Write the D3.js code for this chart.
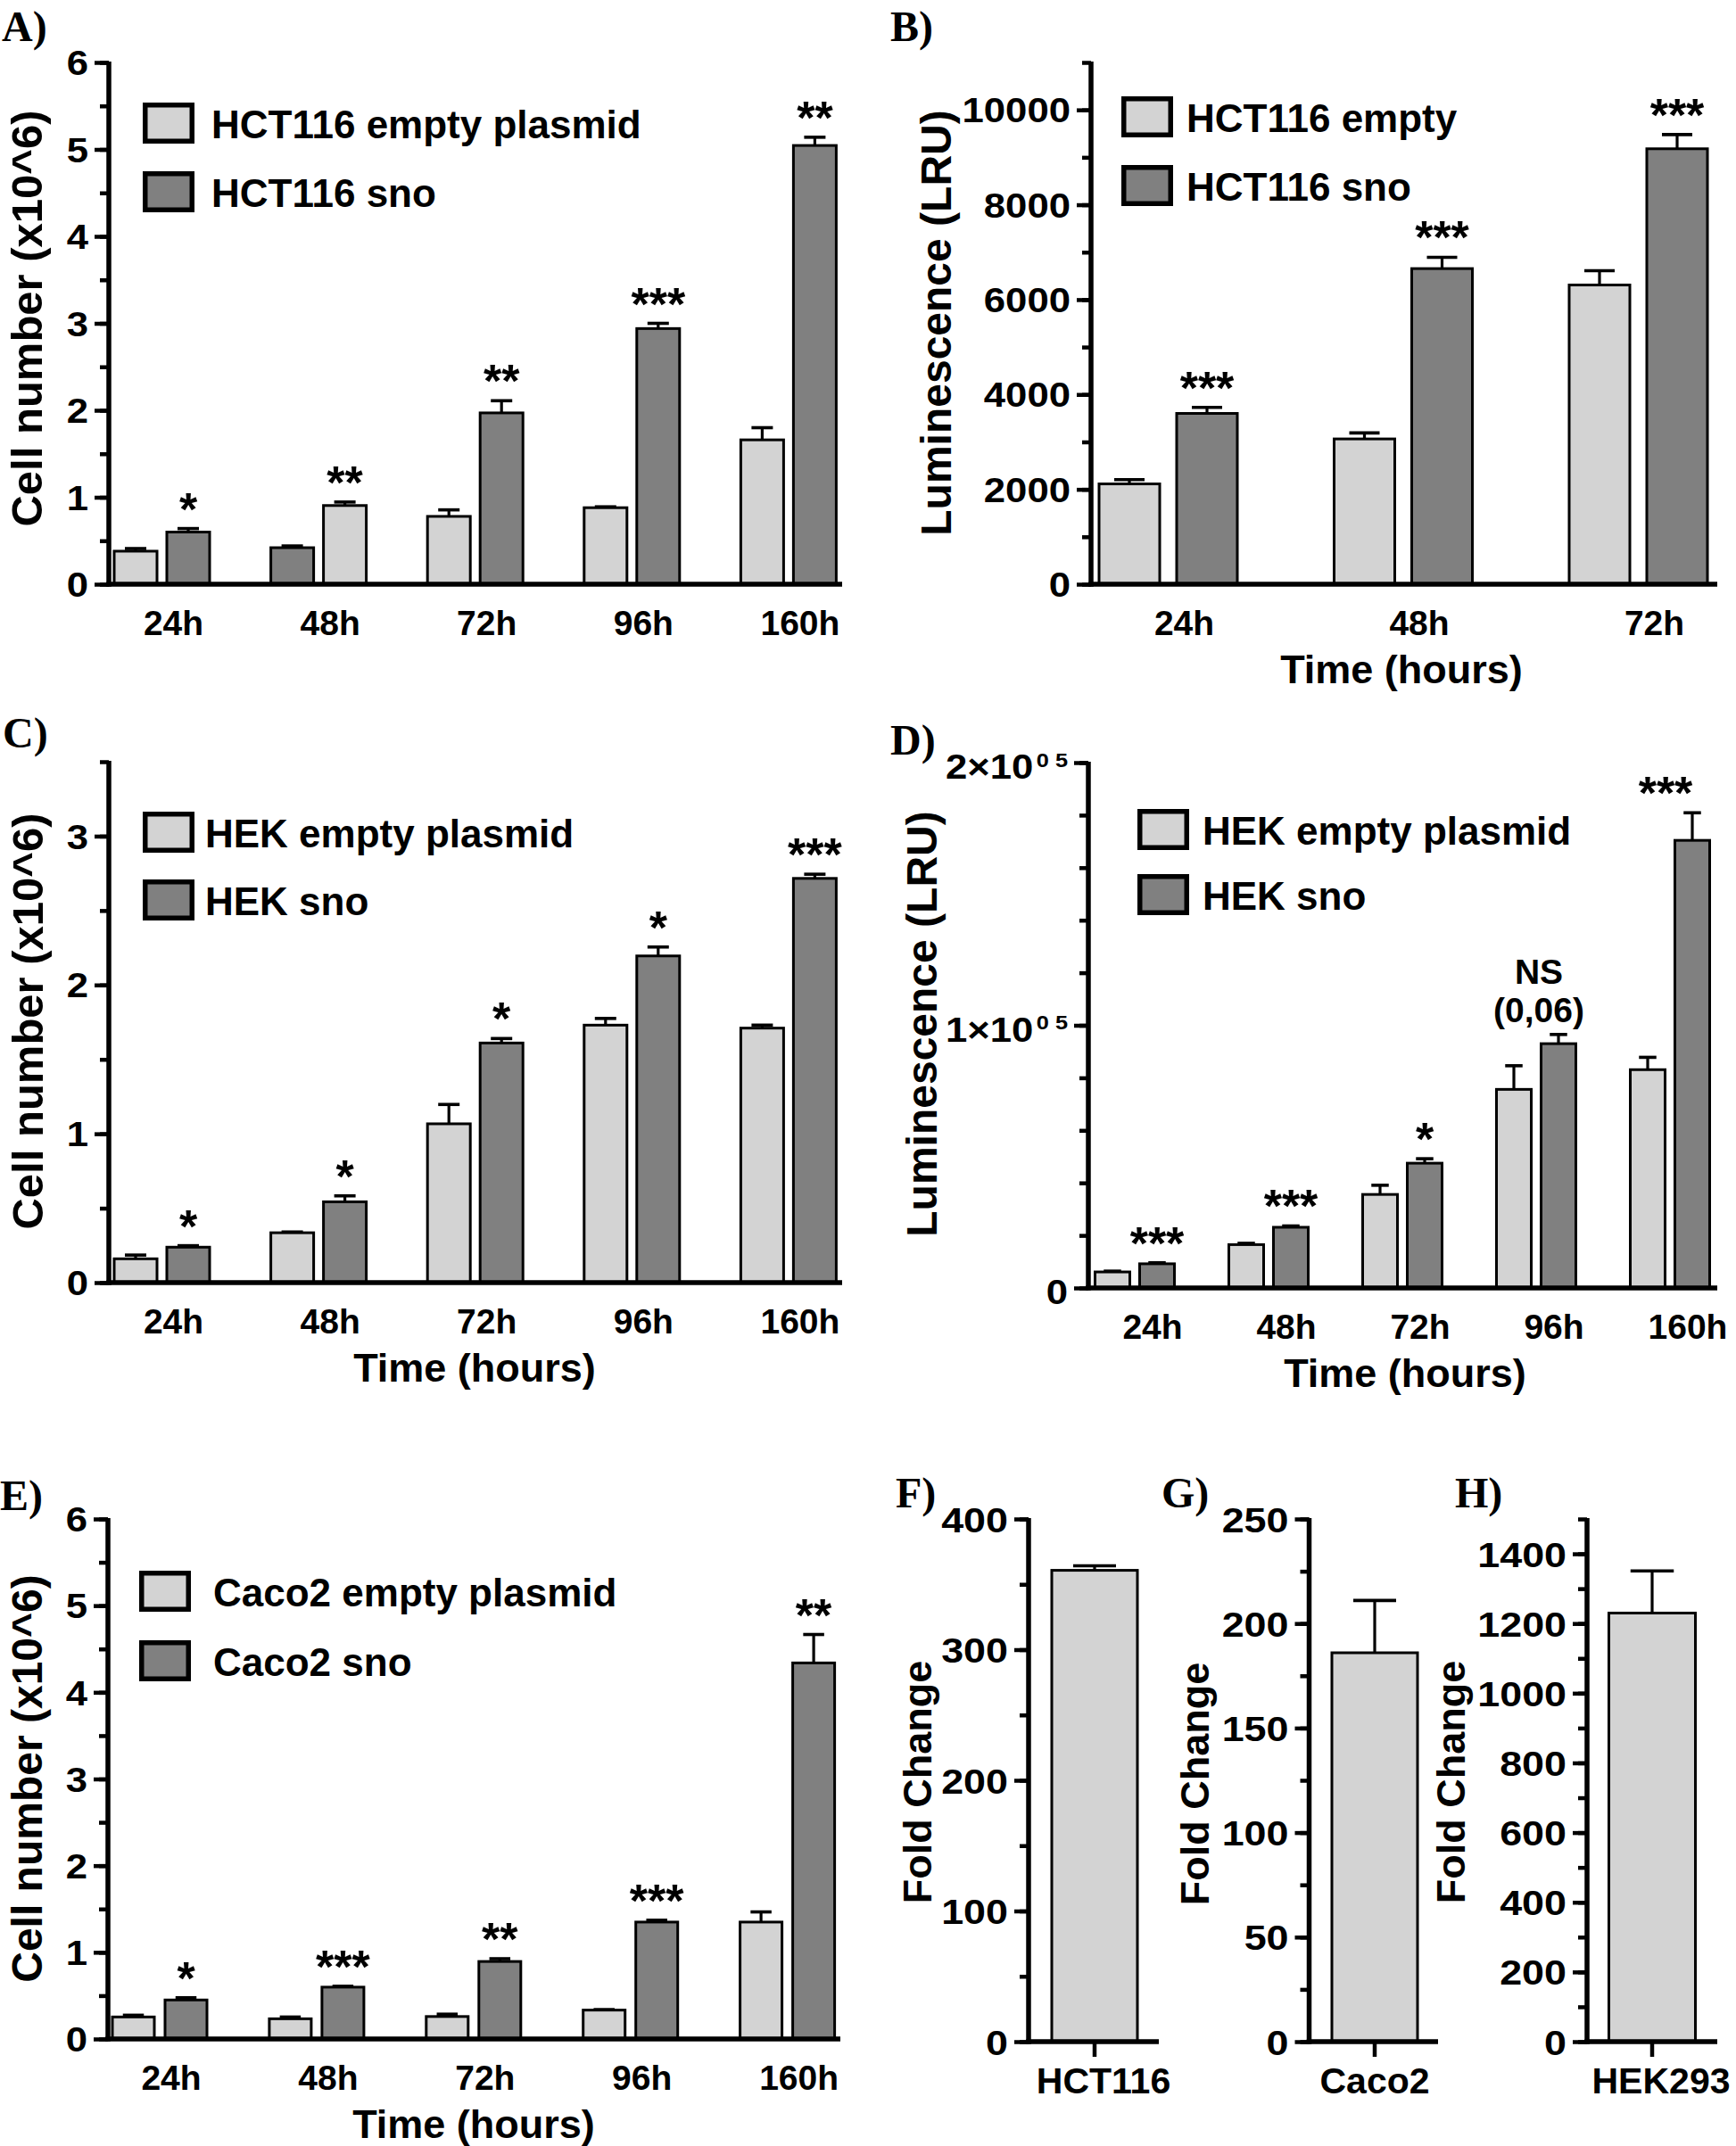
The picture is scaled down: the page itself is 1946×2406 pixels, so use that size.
<!DOCTYPE html>
<html><head><meta charset="utf-8">
<script src="https://cdn.jsdelivr.net/npm/d3@7"></script>
<style>
body{margin:0;background:#fff}
svg text{font-family:"Liberation Sans",Arial,sans-serif;font-weight:bold;fill:#000}
</style>
</head><body>
<svg id="c" width="1946" height="2406" xmlns="http://www.w3.org/2000/svg"></svg>
<script>
// ---------------- DATA ----------------
const timeCats5 = ["24h", "48h", "72h", "96h", "160h"];
const timeCats3 = ["24h", "48h", "72h"];

// Panel A : HCT116 cell number (x10^6)
const aLegend = ["HCT116 empty plasmid", "HCT116 sno"];
const aFirst = [0.38, 0.42, 0.78, 0.88, 1.66];
const aFirstErr = [0.03, 0.02, 0.075, 0.01, 0.14];
const aSecond = [0.60, 0.905, 1.97, 2.94, 5.045];
const aSecondErr = [0.04, 0.04, 0.14, 0.06, 0.095];
const aSwapped = [false, true, false, false, false]; // 48h drawn with swapped shades
const aSig = ["*", "**", "**", "***", "**"];
const aTicks = [0, 1, 2, 3, 4, 5, 6];

// Panel B : HCT116 luminescence
const bLegend = ["HCT116 empty", "HCT116 sno"];
const bFirst = [2115, 3063, 6308];
const bFirstErr = [90, 127, 300];
const bSecond = [3601, 6654, 9180];
const bSecondErr = [127, 238, 300];
const bSig = ["***", "***", "***"];
const bTicks = [0, 2000, 4000, 6000, 8000, 10000];

// Panel C : HEK cell number
const cLegend = ["HEK empty plasmid", "HEK sno"];
const cFirst = [0.16, 0.335, 1.067, 1.73, 1.71];
const cFirstErr = [0.025, 0.005, 0.13, 0.045, 0.02];
const cSecond = [0.238, 0.543, 1.61, 2.195, 2.716];
const cSecondErr = [0.01, 0.04, 0.03, 0.06, 0.028];
const cSig = ["*", "*", "*", "*", "***"];
const cTicks = [0, 1, 2, 3];

// Panel D : HEK luminescence
const dLegend = ["HEK empty plasmid", "HEK sno"];
const dFirst = [6100, 16500, 35600, 75600, 83100];
const dFirstErr = [300, 500, 3500, 9000, 4700];
const dSecond = [9200, 23100, 47500, 93000, 170400];
const dSecondErr = [400, 500, 1700, 3500, 10500];
const dSig = ["***", "***", "*", "NS|(0,06)", "***"];
const dTicks = [0, 100000, 200000];
const dTickLabels = [["0", ""], ["1\u00d710", "0 5"], ["2\u00d710", "0 5"]];

// Panel E : Caco2 cell number
const eLegend = ["Caco2 empty plasmid", "Caco2 sno"];
const eFirst = [0.254, 0.233, 0.259, 0.333, 1.349];
const eFirstErr = [0.02, 0.02, 0.027, 0.006, 0.117];
const eSecond = [0.45, 0.598, 0.894, 1.349, 4.339];
const eSecondErr = [0.026, 0.01, 0.032, 0.021, 0.328];
const eSig = ["*", "***", "**", "***", "**"];
const eTicks = [0, 1, 2, 3, 4, 5, 6];

// Panels F, G, H : fold change
const fCat = ["HCT116"], fVal = [360.7], fErr = [3.5], fTicks = [0, 100, 200, 300, 400];
const gCat = ["Caco2"], gVal = [186], gErr = [25], gTicks = [0, 50, 100, 150, 200, 250];
const hCat = ["HEK293"], hVal = [1230], hErr = [121], hTicks = [0, 200, 400, 600, 800, 1000, 1200, 1400];

// ---------------- DRAWING ----------------
const LIGHT = "#d3d3d3", DARK = "#808080";
const TICK_STRETCH = 1.15;
const svg = d3.select("#c");
svg.append("rect").attr("width", 1946).attr("height", 2406).attr("fill", "#fff");

function yAxis(g, y, cfg) {
  const minor = d3.range(cfg.domain[0], cfg.domain[1] + cfg.minor / 2, cfg.minor);
  g.append("g").attr("transform", `translate(${cfg.axisX},0)`)
    .call(d3.axisLeft(y).tickValues(minor).tickSize(10).tickSizeOuter(0).tickFormat(""))
    .call(s => s.select(".domain").remove())
    .call(s => s.selectAll("line").attr("stroke", "#000").attr("stroke-width", 4.5));
  const maj = g.append("g").attr("transform", `translate(${cfg.axisX},0)`)
    .call(d3.axisLeft(y).tickValues(cfg.ticks).tickSize(16).tickSizeOuter(0).tickPadding(7)
      .tickFormat(d => d));
  maj.select(".domain").remove();
  maj.selectAll("line").attr("stroke", "#000").attr("stroke-width", 4.5);
  maj.selectAll("text").attr("font-size", cfg.tickFont || 38).attr("dy", "0.36em")
    .attr("font-family", '"Liberation Sans",Arial,sans-serif').attr("font-weight", "bold");
  if (cfg.tickParts) {
    maj.selectAll("text").each(function (d, i) {
      const t = d3.select(this).text(null);
      const parts = cfg.tickParts[i];
      t.append("tspan").text(parts[0]);
      if (parts[1]) t.append("tspan").attr("font-size", 22).attr("dy", "-0.62em").attr("dx", 3)
        .attr("xml:space", "preserve").text(parts[1]);
    });
  }
  // wider digits, as in the original
  maj.selectAll("text").each(function () {
    const t = d3.select(this);
    const x = +t.attr("x");
    t.attr("x", x / TICK_STRETCH).attr("y", cfg.tickDy || 0)
      .attr("transform", `scale(${TICK_STRETCH},1)`);
  });
  g.append("line").attr("x1", cfg.axisX).attr("x2", cfg.axisX)
    .attr("y1", y(cfg.domain[1]) - 1).attr("y2", cfg.base + 2.75)
    .attr("stroke", "#000").attr("stroke-width", 5.5);
  g.append("line").attr("x1", cfg.axisX - 2.75).attr("x2", cfg.xEnd)
    .attr("y1", cfg.base).attr("y2", cfg.base)
    .attr("stroke", "#000").attr("stroke-width", 5.5);
}

function yTitle(g, cfg) {
  g.append("text").attr("transform", `translate(${cfg.yTitleX},${cfg.yTitleY}) rotate(-90)`)
    .attr("text-anchor", "middle").attr("font-size", cfg.yTitleFont).text(cfg.yTitle);
}

function panelLetter(g, letter, x, yb) {
  g.append("text").attr("x", x).attr("y", yb).attr("font-size", 48)
    .style("font-family", '"Liberation Serif","Times New Roman",serif').attr("font-weight", "bold")
    .text(letter);
}

function groupedPanel(cfg) {
  const g = svg.append("g");
  const n = cfg.cats.length;
  const y = d3.scaleLinear().domain(cfg.domain).range([cfg.base, cfg.top]);
  const gw = 2 * cfg.w + cfg.g;
  const pi = 1 - gw / cfg.step;
  const x0 = d3.scaleBand().domain(cfg.cats)
    .range([cfg.c0 - cfg.step / 2, cfg.c0 + cfg.step * (n - 0.5)])
    .paddingInner(pi).paddingOuter(pi / 2);
  const x1 = d3.scaleBand().domain([0, 1]).range([0, x0.bandwidth()])
    .paddingInner(cfg.g / (cfg.w + cfg.g)).paddingOuter(0);

  const rows = cfg.cats.map((c, i) => ({
    cat: c, i,
    bars: [
      { k: 0, v: cfg.first[i], e: cfg.firstErr[i], fill: (cfg.swapped && cfg.swapped[i]) ? DARK : LIGHT },
      { k: 1, v: cfg.second[i], e: cfg.secondErr[i], fill: (cfg.swapped && cfg.swapped[i]) ? LIGHT : DARK }
    ],
    sig: cfg.sig[i]
  }));

  rows.forEach(r => r.bars.forEach(b => {
    const cx = x0(r.cat) + x1(b.k) + x1.bandwidth() / 2;
    g.append("line").attr("x1", cx).attr("x2", cx).attr("y1", y(b.v)).attr("y2", y(b.v + b.e))
      .attr("stroke", "#000").attr("stroke-width", 3.2);
    g.append("line").attr("x1", cx - x1.bandwidth() / 4).attr("x2", cx + x1.bandwidth() / 4)
      .attr("y1", y(b.v + b.e)).attr("y2", y(b.v + b.e))
      .attr("stroke", "#000").attr("stroke-width", 3.6);
  }));
  rows.forEach(r => r.bars.forEach(b => {
    g.append("rect").attr("x", x0(r.cat) + x1(b.k)).attr("y", y(b.v))
      .attr("width", x1.bandwidth()).attr("height", cfg.base - y(b.v))
      .attr("fill", b.fill).attr("stroke", "#000").attr("stroke-width", 3);
  }));

  rows.forEach(r => {
    const b = r.bars[1];
    const cx = x0(r.cat) + x1(1) + x1.bandwidth() / 2 + ((cfg.sigDx && cfg.sigDx[r.i]) || 0);
    const top = y(b.v + b.e);
    if (r.sig.indexOf("|") >= 0) {
      const parts = r.sig.split("|");
      g.append("text").attr("x", cx).attr("y", top - 57).attr("text-anchor", "middle").attr("font-size", 39).text(parts[0]);
      g.append("text").attr("x", cx).attr("y", top - 14).attr("text-anchor", "middle").attr("font-size", 39).text(parts[1]);
    } else {
      g.append("text").attr("x", cx).attr("y", top - 4).attr("text-anchor", "middle")
        .attr("font-size", 52).text(r.sig);
    }
  });

  yAxis(g, y, cfg);

  const xa = g.append("g").attr("transform", `translate(${cfg.labelDx},${cfg.base})`)
    .call(d3.axisBottom(x0).tickSize(0).tickPadding(0));
  xa.select(".domain").remove();
  xa.selectAll("text").attr("font-size", 39).attr("dy", null).attr("y", 57)
    .attr("font-family", '"Liberation Sans",Arial,sans-serif').attr("font-weight", "bold");

  if (cfg.xTitle) g.append("text").attr("x", cfg.xTitleX).attr("y", cfg.base + 111)
    .attr("text-anchor", "middle").attr("font-size", 45).text(cfg.xTitle);
  yTitle(g, cfg);

  cfg.legend.forEach((lab, i) => {
    const cy = cfg.legCY + i * cfg.legDY;
    g.append("rect").attr("x", cfg.legX + 2.75).attr("y", cy - 20.25).attr("width", 52.5).attr("height", 40.5)
      .attr("fill", i === 0 ? LIGHT : DARK).attr("stroke", "#000").attr("stroke-width", 5.5);
    g.append("text").attr("x", cfg.legTX).attr("y", cy + 17).attr("font-size", 44).text(lab);
  });
  panelLetter(g, cfg.letter, cfg.letterX, cfg.letterY);
}

function singlePanel(cfg) {
  const g = svg.append("g");
  const y = d3.scaleLinear().domain(cfg.domain).range([cfg.base, cfg.top]);
  const x = d3.scaleBand().domain(cfg.cats).range([cfg.center - cfg.w / 2, cfg.center + cfg.w / 2]).padding(0);
  const v = cfg.vals[0], e = cfg.errs[0], c = cfg.cats[0];
  const cx = x(c) + x.bandwidth() / 2;
  g.append("line").attr("x1", cx).attr("x2", cx).attr("y1", y(v)).attr("y2", y(v + e)).attr("stroke", "#000").attr("stroke-width", 3.2);
  g.append("line").attr("x1", cx - x.bandwidth() / 4).attr("x2", cx + x.bandwidth() / 4)
    .attr("y1", y(v + e)).attr("y2", y(v + e)).attr("stroke", "#000").attr("stroke-width", 3.6);
  g.append("rect").attr("x", x(c)).attr("y", y(v)).attr("width", x.bandwidth()).attr("height", cfg.base - y(v))
    .attr("fill", LIGHT).attr("stroke", "#000").attr("stroke-width", 3);
  yAxis(g, y, cfg);
  const xa = g.append("g").attr("transform", `translate(0,${cfg.base})`)
    .call(d3.axisBottom(x).tickSize(17).tickPadding(0));
  xa.select(".domain").remove();
  xa.selectAll("line").attr("stroke", "#000").attr("stroke-width", 4.5);
  xa.selectAll("text").attr("font-size", 41).attr("dy", null).attr("y", 58).attr("dx", cfg.labelDx)
    .attr("font-family", '"Liberation Sans",Arial,sans-serif').attr("font-weight", "bold");
  yTitle(g, cfg);
  panelLetter(g, cfg.letter, cfg.letterX, cfg.letterY);
}

groupedPanel({
  letter: "A)", letterX: 2, letterY: 46,
  cats: timeCats5, first: aFirst, firstErr: aFirstErr, second: aSecond, secondErr: aSecondErr,
  swapped: aSwapped, sig: aSig, legend: aLegend,
  domain: [0, 6], ticks: aTicks, minor: 0.5,
  axisX: 122, top: 70, base: 655, xEnd: 944,
  c0: 181.5, step: 175.6, w: 48, g: 11, labelDx: 13,
  yTitle: "Cell number (x10^6)", yTitleX: 47, yTitleY: 357, yTitleFont: 49,
  legX: 160, legCY: 138, legDY: 77, legTX: 237
});

groupedPanel({
  letter: "B)", letterX: 998, letterY: 46,
  cats: timeCats3, first: bFirst, firstErr: bFirstErr, second: bSecond, secondErr: bSecondErr,
  sig: bSig, legend: bLegend,
  domain: [0, 11000], ticks: bTicks, minor: 1000,
  axisX: 1223, top: 70, base: 655, xEnd: 1925,
  c0: 1309.5, step: 263.5, w: 68, g: 19, labelDx: 18,
  xTitle: "Time (hours)", xTitleX: 1571,
  yTitle: "Luminescence (LRU)", yTitleX: 1066, yTitleY: 362, yTitleFont: 48,
  legX: 1257, legCY: 131, legDY: 77, legTX: 1330
});

groupedPanel({
  letter: "C)", letterX: 3, letterY: 838,
  cats: timeCats5, first: cFirst, firstErr: cFirstErr, second: cSecond, secondErr: cSecondErr,
  sig: cSig, legend: cLegend,
  domain: [0, 3.5], ticks: cTicks, minor: 0.5,
  axisX: 122, top: 854, base: 1438, xEnd: 944,
  c0: 181.5, step: 175.6, w: 48, g: 11, labelDx: 13,
  xTitle: "Time (hours)", xTitleX: 532,
  yTitle: "Cell number (x10^6)", yTitleX: 48, yTitleY: 1145, yTitleFont: 49,
  legX: 160, legCY: 933, legDY: 76, legTX: 230
});

groupedPanel({
  letter: "D)", letterX: 998, letterY: 846,
  cats: timeCats5, first: dFirst, firstErr: dFirstErr, second: dSecond, secondErr: dSecondErr,
  sig: dSig, sigDx: [0, 0, 0, -22, -30], legend: dLegend,
  domain: [0, 200000], ticks: dTicks, minor: 20000, tickParts: dTickLabels, tickDy: 4,
  axisX: 1220, top: 855, base: 1444, xEnd: 1925,
  c0: 1272, step: 150, w: 39, g: 11, labelDx: 20,
  xTitle: "Time (hours)", xTitleX: 1575,
  yTitle: "Luminescence (LRU)", yTitleX: 1050, yTitleY: 1148, yTitleFont: 48,
  legX: 1275, legCY: 930, legDY: 73, legTX: 1348
});

groupedPanel({
  letter: "E)", letterX: 0, letterY: 1693,
  cats: timeCats5, first: eFirst, firstErr: eFirstErr, second: eSecond, secondErr: eSecondErr,
  sig: eSig, legend: eLegend,
  domain: [0, 6], ticks: eTicks, minor: 0.5,
  axisX: 121, top: 1703, base: 2286, xEnd: 942,
  c0: 179, step: 175.9, w: 47, g: 12, labelDx: 13,
  xTitle: "Time (hours)", xTitleX: 531,
  yTitle: "Cell number (x10^6)", yTitleX: 47, yTitleY: 1994, yTitleFont: 48,
  legX: 156, legCY: 1784, legDY: 78, legTX: 239
});

singlePanel({
  letter: "F)", letterX: 1004, letterY: 1690,
  cats: fCat, vals: fVal, errs: fErr,
  domain: [0, 400], ticks: fTicks, minor: 50, tickFont: 39,
  axisX: 1153, top: 1703, base: 2289, xEnd: 1299, center: 1227, w: 96, labelDx: 10,
  yTitle: "Fold Change", yTitleX: 1044, yTitleY: 1998, yTitleFont: 45
});
singlePanel({
  letter: "G)", letterX: 1302, letterY: 1690,
  cats: gCat, vals: gVal, errs: gErr,
  domain: [0, 250], ticks: gTicks, minor: 25, tickFont: 39,
  axisX: 1467.5, top: 1703, base: 2289, xEnd: 1612, center: 1541, w: 96, labelDx: 0,
  yTitle: "Fold Change", yTitleX: 1355, yTitleY: 2000, yTitleFont: 45
});
singlePanel({
  letter: "H)", letterX: 1631, letterY: 1690,
  cats: hCat, vals: hVal, errs: hErr,
  domain: [0, 1500], ticks: hTicks, minor: 100, tickFont: 39,
  axisX: 1779, top: 1703, base: 2289, xEnd: 1925, center: 1852, w: 97, labelDx: 10,
  yTitle: "Fold Change", yTitleX: 1642, yTitleY: 1998, yTitleFont: 45
});
</script>
</body></html>
